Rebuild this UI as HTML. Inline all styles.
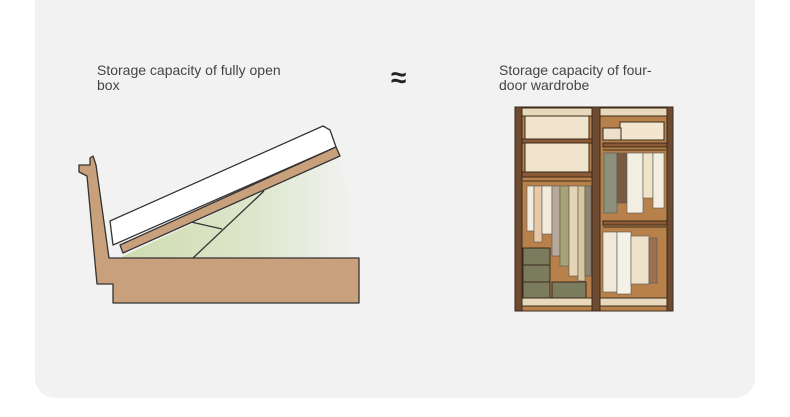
<!DOCTYPE html>
<html><head><meta charset="utf-8"><style>
body{margin:0;background:#fff;width:790px;height:417px;overflow:hidden;font-family:"Liberation Sans",sans-serif}
.panel{position:absolute;left:35px;top:-20px;width:720px;height:418px;background:#f2f2f2;border-radius:20px}
.t{position:absolute;font-size:14px;line-height:15px;color:#444}
</style></head><body>
<div class="panel"></div>
<div class="t" style="left:97px;top:63px">Storage capacity of fully open<br>box</div>
<div class="t" style="left:499px;top:63px">Storage capacity of four-<br>door wardrobe</div>
<div class="t" style="left:391px;top:63px;font-size:28px;line-height:30px;color:#222;font-weight:bold">≈</div>
<svg width="790" height="417" style="position:absolute;left:0;top:0">
<defs><linearGradient id="g" x1="0" x2="1" y1="0" y2="0">
<stop offset="0" stop-color="#cfdcaf"/><stop offset="0.55" stop-color="#dde6cb"/><stop offset="1" stop-color="#f2f2f2"/></linearGradient></defs>
<g stroke="#333" stroke-width="1.3" stroke-linejoin="round">
<polygon points="123,256 338,156 355,210 355,258 123,258" fill="url(#g)" stroke="none"/>
<line x1="193" y1="258" x2="264" y2="191"/>
<line x1="191" y1="222" x2="222" y2="229"/>
<polygon points="113,245 110,221 323,126 330,130 336,147" fill="#fff"/>
<polygon points="120,245 336,147 340,156 123,253" fill="#c9a07c"/>
<polygon points="79,165 90,165 90,158 93,156 96,165 109,258 359,258 359,303 113,303 113,284 97,284 87,176 79,172" fill="#c9a07c"/>
</g>
<g stroke="#3a2a1c" stroke-width="1">
<rect x="515" y="107" width="158" height="204" fill="#b8814b"/>
<rect x="522" y="108" width="70" height="8" fill="#e8d9bd"/>
<rect x="600" y="108" width="67" height="8" fill="#e8d9bd"/>
<rect x="522" y="298" width="70" height="8" fill="#e8d9bd"/>
<rect x="600" y="298" width="67" height="8" fill="#e8d9bd"/>
<rect x="515" y="107" width="7" height="204" fill="#6e4a30"/>
<rect x="667" y="107" width="6" height="204" fill="#6e4a30"/>
<rect x="592" y="107" width="8" height="204" fill="#6e4a30"/>
<rect x="525" y="116" width="64" height="23" fill="#f0e4cc"/>
<rect x="525" y="143" width="64" height="29" fill="#f0e4cc"/>
<rect x="522" y="139" width="70" height="4" fill="#8a5a36"/>
<rect x="522" y="172" width="70" height="5" fill="#8a5a36"/>
<line x1="523" y1="181" x2="591" y2="181"/>
<rect x="603" y="143" width="64" height="4" fill="#8a5a36"/>
<rect x="603" y="221" width="64" height="4" fill="#8a5a36"/>
<rect x="620" y="122" width="44" height="18" fill="#f3e6cf"/>
<rect x="603" y="128" width="18" height="12" fill="#ece0cc"/>
<line x1="603" y1="150" x2="666" y2="150"/>
<line x1="603" y1="227" x2="666" y2="227"/>
<rect x="523" y="248" width="27" height="17" fill="#7b7b5e"/>
<rect x="523" y="265" width="27" height="17" fill="#7b7b5e"/>
<rect x="523" y="282" width="27" height="16" fill="#7b7b5e"/>
<rect x="552" y="282" width="34" height="16" fill="#7b7b5e"/>
</g>
<g stroke="#555" stroke-width="0.6">
<rect x="527" y="186" width="7" height="45" fill="#f1ece0"/>
<rect x="534" y="186" width="8" height="56" fill="#e7c8a8"/>
<rect x="542" y="186" width="10" height="48" fill="#f0ebdc"/>
<rect x="552" y="186" width="8" height="70" fill="#b8a99a"/>
<rect x="560" y="186" width="9" height="80" fill="#a8a374"/>
<rect x="569" y="186" width="9" height="90" fill="#e5d5b6"/>
<rect x="578" y="186" width="7" height="95" fill="#d8c69e"/>
<rect x="585" y="186" width="6" height="90" fill="#8f8672"/>
<rect x="604" y="153" width="13" height="60" fill="#8d907a"/>
<rect x="617" y="153" width="10" height="50" fill="#7a5a40"/>
<rect x="627" y="153" width="16" height="60" fill="#f3eee2"/>
<rect x="643" y="153" width="10" height="45" fill="#efe4c8"/>
<rect x="653" y="153" width="11" height="55" fill="#f3eee2"/>
<rect x="603" y="232" width="14" height="60" fill="#f0e8d8"/>
<rect x="617" y="232" width="14" height="62" fill="#f5f1e6"/>
<rect x="631" y="236" width="18" height="48" fill="#efe2c8"/>
<rect x="649" y="238" width="8" height="45" fill="#9d7150"/>
</g>
</svg>
</body></html>
